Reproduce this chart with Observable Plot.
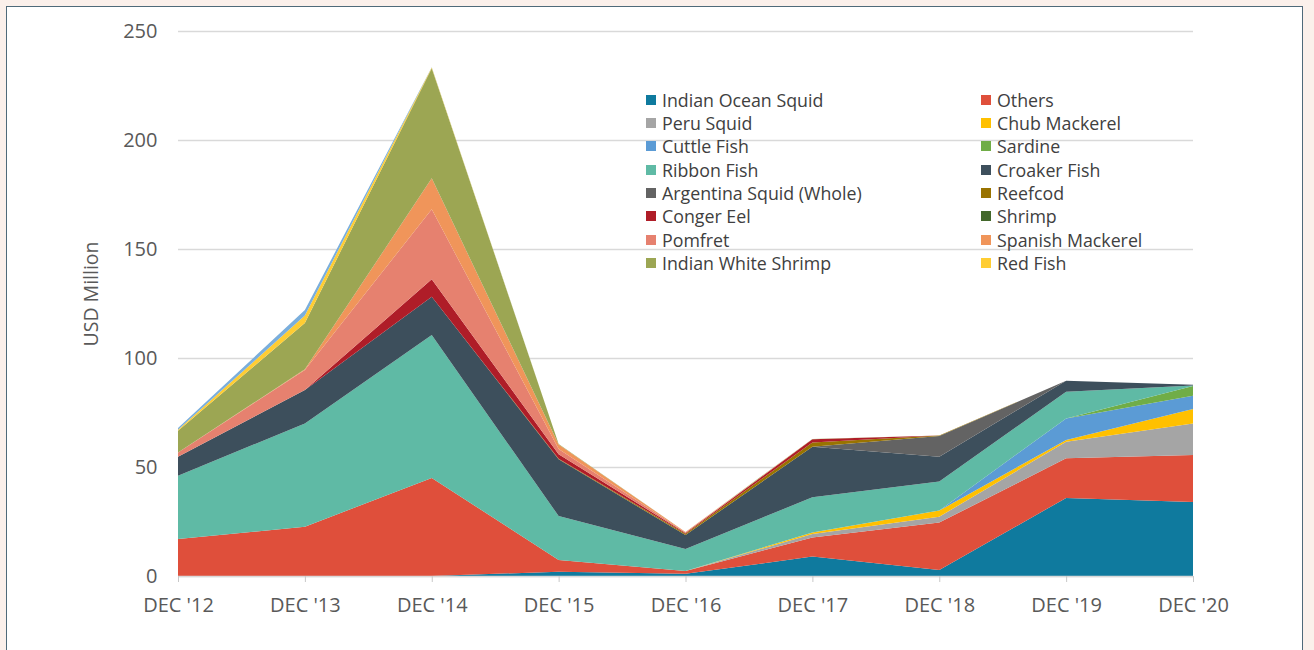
<!DOCTYPE html>
<html>
<head>
<meta charset="utf-8">
<script src="https://cdn.jsdelivr.net/npm/d3@7"></script>
<script src="https://cdn.jsdelivr.net/npm/@observablehq/plot@0.6"></script>
<style>
  html, body { margin: 0; padding: 0; background: #fbf0eb; width: 1314px; height: 650px; overflow: hidden; }
  #frame { position: absolute; left: 6px; top: 6px; width: 1297px; height: 700px; background: #fff; border: 1.5px solid #4f6a7a; box-sizing: border-box; }
  #chart { position: absolute; left: 0; top: 0; }
  #legend { position: absolute; left: 646px; top: 88px; font-family: "Open Sans", sans-serif; font-size: 17.8px; color: #404040; display: grid; grid-template-columns: 335px auto; row-gap: 0; }
  .item { display: flex; align-items: center; height: 23.33px; white-space: nowrap; }
  .sw { width: 10px; height: 10px; margin-right: 6px; flex: none; }
</style>
</head>
<body>
<div id="frame"></div>
<div id="chart"></div>
<div id="legend"></div>
<script>
const categories = ["DEC '12", "DEC '13", "DEC '14", "DEC '15", "DEC '16", "DEC '17", "DEC '18", "DEC '19", "DEC '20"];

// Series values (USD Million), one per category, stacking order bottom → top
const indianOceanSquid = [0, 0, 0, 2.0, 1.0, 8.9, 2.8, 35.8, 33.9];
const others           = [17, 22.6, 45, 5.3, 1.3, 8.8, 21.7, 18.2, 21.6];
const peruSquid        = [0, 0, 0, 0, 0, 1.6, 2.7, 7.6, 14.5];
const chubMackerel     = [0, 0, 0, 0, 0, 0.6, 2.8, 0.8, 6.6];
const cuttleFish       = [0, 0, 0, 0, 0, 0, 0, 9.9, 6.1];
const sardine          = [0, 0, 0, 0, 0, 0, 0, 0, 4.5];
const ribbonFish       = [29, 47.4, 65.5, 20.2, 10.1, 16.2, 13.3, 12.2, 0.2];
const croakerFish      = [8.7, 15.3, 17.6, 26, 6.4, 23.2, 11.4, 5.1, 0.3];
const argentinaSquid   = [0, 0, 0, 0, 0, 0, 9.5, 0, 0];
const reefcod          = [0, 0, 0, 0.3, 0.6, 1.9, 0.2, 0, 0];
const congerEel        = [0, 0, 8, 2, 0.3, 1.5, 0, 0, 0];
const shrimp           = [0, 0, 0, 0, 0, 0, 0, 0, 0];
const pomfret          = [2, 9.2, 32.1, 2.5, 0.3, 0, 0, 0, 0];
const spanishMackerel  = [0, 0.3, 14.2, 2, 0.2, 0, 0, 0, 0];
const indianWhiteShrimp= [9.9, 21.2, 50.5, 0.3, 0, 0.2, 0, 0, 0];
const redFish          = [0.5, 3.5, 0.3, 0, 0, 0, 0, 0, 0];
const unlistedSeries   = [0.8, 2.5, 0.2, 0, 0, 0, 0, 0, 0];

const seriesNames = ["Indian Ocean Squid", "Others", "Peru Squid", "Chub Mackerel", "Cuttle Fish", "Sardine",
  "Ribbon Fish", "Croaker Fish", "Argentina Squid (Whole)", "Reefcod", "Conger Eel", "Shrimp",
  "Pomfret", "Spanish Mackerel", "Indian White Shrimp", "Red Fish", "(unlisted)"];
const seriesValues = [indianOceanSquid, others, peruSquid, chubMackerel, cuttleFish, sardine,
  ribbonFish, croakerFish, argentinaSquid, reefcod, congerEel, shrimp,
  pomfret, spanishMackerel, indianWhiteShrimp, redFish, unlistedSeries];
const seriesColors = ["#0f7a9e", "#df4f3b", "#a5a5a5", "#ffc000", "#5b9bd5", "#70ad47",
  "#5fbaa5", "#3d4f5c", "#636363", "#997300", "#af1d28", "#43682b",
  "#e6816f", "#f0955a", "#9ca653", "#ffcd33", "#7aaedc"];
const legendCount = 16;
const yTicks = [0, 50, 100, 150, 200, 250];

const table = [];
seriesNames.forEach((s, i) => categories.forEach((c, j) => table.push({series: s, cat: c, value: seriesValues[i][j]})));

const chart = Plot.plot({
  width: 1314,
  height: 650,
  marginLeft: 178,
  marginRight: 121,
  marginTop: 31,
  marginBottom: 74,
  style: {fontFamily: "Open Sans, sans-serif", fontSize: "20px", color: "#595959", background: "transparent"},
  x: {type: "point", domain: categories, padding: 0, round: false},
  y: {domain: [0, 250]},
  color: {domain: seriesNames, range: seriesColors},
  marks: [
    Plot.gridY(yTicks, {stroke: "#d9d9d9", strokeOpacity: 1, strokeWidth: 1.5}),
    Plot.areaY(table, {x: "cat", y: "value", fill: "series", order: seriesNames, curve: "linear"}),
    Plot.ruleY([0], {stroke: "#d9d9d9", strokeWidth: 1.5}),
    Plot.axisX({tickSize: 6, stroke: "#c8c8c8", fill: "#595959", tickPadding: 15, fontSize: 20, label: null}),
    Plot.axisY(yTicks, {tickSize: 0, tickPadding: 21, fill: "#595959", fontSize: 20, label: "USD Million", labelAnchor: "center", labelOffset: 94, labelArrow: "none"})
  ]
});
document.getElementById("chart").appendChild(chart);
chart.querySelectorAll('[aria-label="y-axis label"]').forEach(g => {
  g.setAttribute("font-size", "19.5");
  g.querySelectorAll("text").forEach(t => { t.style.fontSize = "19.5px"; });
  const tr = g.getAttribute("transform") || "";
  g.setAttribute("transform", "translate(0,-10) " + tr);
});

const legend = document.getElementById("legend");
seriesNames.slice(0, legendCount).forEach((s, i) => {
  const d = document.createElement("div");
  d.className = "item";
  d.innerHTML = `<span class="sw" style="background:${seriesColors[i]}"></span><span></span>`;
  d.lastChild.textContent = s;
  legend.appendChild(d);
});
</script>
</body>
</html>
